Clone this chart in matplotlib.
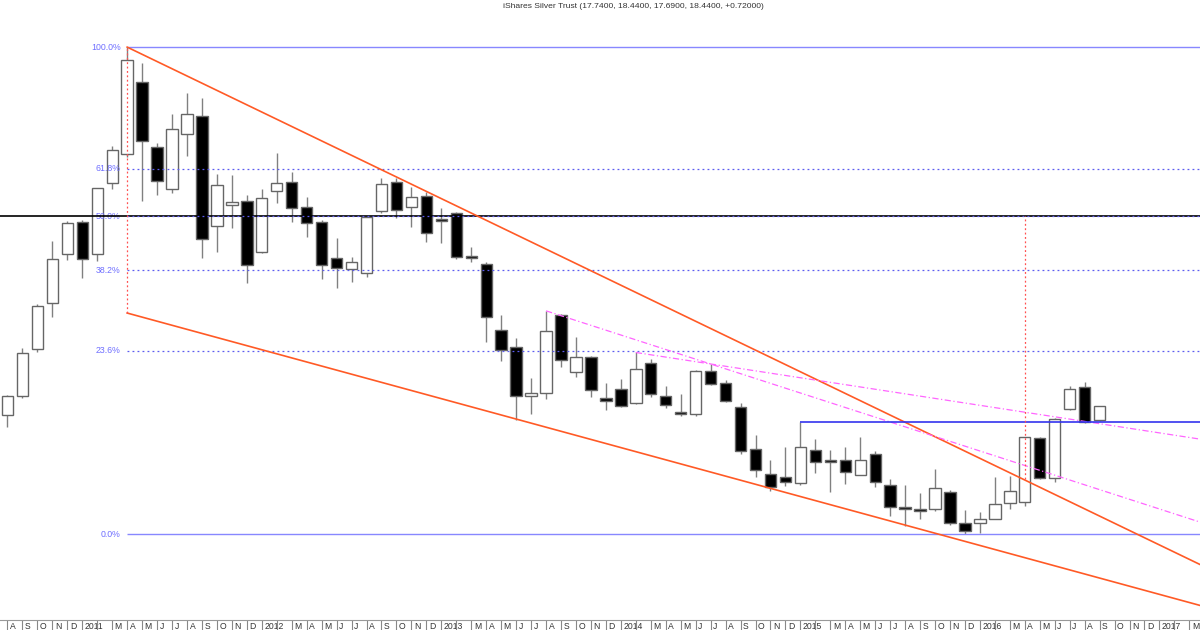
import numpy as np
import matplotlib.pyplot as plt
from matplotlib.transforms import ScaledTranslation

plt.rcParams['font.family'] = ['Liberation Sans', 'DejaVu Sans']

# monthly candles, Aug 2010 .. Sep 2016 (log price axis)
opens = [17.97, 18.93, 21.46, 24.27, 27.71, 30.18, 27.69, 33.57, 36.27, 43.98,
         36.93, 33.01, 38.24, 40.20, 29.90, 31.62, 31.99, 27.88, 32.86, 33.61,
         31.42, 30.23, 27.39, 26.62, 26.35, 31.14, 33.66, 31.42, 32.39, 30.45,
         30.92, 27.59, 26.98, 22.59, 21.56, 18.93, 19.05, 23.50, 20.16, 20.99,
         18.83, 19.29, 18.58, 20.65, 18.93, 18.13, 18.01, 20.25, 19.62, 18.38,
         16.39, 15.33, 15.20, 14.96, 16.36, 15.92, 15.95, 15.32, 16.18, 14.88,
         14.02, 13.98, 13.95, 14.61, 13.45, 13.43, 13.61, 14.20, 14.22, 16.88,
         15.16, 18.25, 19.36, 17.74]
highs = [18.95, 21.52, 24.20, 28.67, 30.30, 30.40, 33.10, 37.10, 48.35, 46.28,
         37.38, 40.35, 42.70, 42.13, 34.37, 34.27, 32.48, 32.98, 36.34, 34.58,
         32.28, 30.37, 28.91, 27.51, 30.70, 33.97, 33.97, 33.21, 32.74, 31.34,
         31.00, 28.26, 27.10, 23.52, 22.13, 19.84, 23.79, 23.60, 22.19, 21.05,
         19.60, 19.78, 21.27, 20.88, 19.43, 19.02, 20.28, 20.61, 19.75, 18.55,
         17.06, 15.95, 16.48, 17.65, 16.84, 16.36, 16.50, 16.95, 16.33, 15.13,
         14.90, 14.58, 15.53, 14.71, 13.92, 13.86, 15.20, 15.25, 16.95, 16.95,
         17.85, 19.43, 19.66, 18.44]
lows = [17.40, 18.83, 21.30, 23.41, 27.27, 25.96, 27.22, 32.98, 36.00, 31.96,
        32.48, 32.63, 36.07, 27.39, 27.84, 29.74, 25.61, 27.80, 31.81, 30.23,
        29.03, 25.91, 25.27, 25.72, 26.07, 30.97, 30.51, 29.82, 28.64, 28.57,
        27.32, 27.14, 21.89, 20.80, 17.73, 18.05, 18.75, 20.43, 19.89, 18.88,
        18.22, 18.36, 18.50, 18.85, 18.30, 17.92, 17.95, 19.48, 18.60, 16.21,
        15.22, 14.66, 14.85, 14.90, 15.39, 14.60, 14.92, 15.28, 14.80, 13.70,
        13.33, 13.61, 13.90, 13.37, 13.05, 13.10, 13.58, 13.98, 14.07, 15.12,
        15.02, 18.20, 17.58, 17.69]
closes = [18.91, 21.25, 24.10, 27.37, 30.15, 27.34, 33.07, 36.66, 46.70, 37.56,
          33.75, 38.79, 40.35, 28.85, 33.34, 31.90, 26.90, 32.19, 33.52, 31.34,
          30.10, 26.90, 26.67, 27.10, 30.64, 33.43, 31.19, 32.33, 29.35, 30.30,
          27.51, 27.39, 23.41, 21.41, 18.93, 19.08, 22.55, 20.84, 21.02, 19.22,
          18.68, 18.41, 20.32, 19.00, 18.46, 18.05, 20.23, 19.53, 18.66, 16.31,
          15.50, 14.82, 15.02, 16.50, 15.85, 15.85, 15.43, 15.92, 15.01, 14.04,
          13.95, 13.90, 14.76, 13.43, 13.17, 13.58, 14.17, 14.65, 16.93, 15.16,
          17.81, 19.27, 17.65, 18.44]

title = "iShares Silver Trust (17.7400, 18.4400, 17.6900, 18.4400, +0.72000)"

# fibonacci retracement between the Apr 2011 high and the Dec 2015 low
fib_high = 48.35
fib_low = 13.05
fib_ratios = [1.0, 0.618, 0.5, 0.382, 0.236, 0.0]
fib_names = ['100.0%', '61.8%', '50.0%', '38.2%', '23.6%', '0.0%']
fib_start = 8

# drawn lines: (bar indexes, prices)
upper_channel = ([8, 80], [48.35, 11.96])
lower_channel = ([8, 80], [23.65, 10.74])
pink_a = ([36, 80], [23.79, 13.43])
pink_b = ([42, 80], [21.27, 16.82])
jan15_high = (53, 17.65)
red_marks = [(8, 48.35, 23.65), (68, 30.70, 15.13)]

month_initials = list('JFMAMJJASOND')
first_year, first_month = 2010, 8
n_slots = 80

o = np.array(opens)
h = np.array(highs)
l = np.array(lows)
c = np.array(closes)
x = np.arange(len(o))
up = c >= o

tick_labels = []
for k in range(n_slots):
    m = (first_month - 1 + k) % 12
    yr = first_year + (first_month - 1 + k) // 12
    if m == 0:
        tick_labels.append(str(yr))
    elif m == 1:
        tick_labels.append('')
    else:
        tick_labels.append(month_initials[m])

fig = plt.figure(figsize=(12, 6.3), dpi=100)
ax = fig.add_axes([0, 10 / 630, 1, 605 / 630])
ax.set_yscale('log')
ax.set_ylim(10.36, 52.71)
ax.set_xlim(-0.5, 79.71)

# candles
ax.vlines(x, l, h, color='#808080', lw=1, zorder=2)
ax.bar(x[up], (c - o)[up], bottom=o[up], width=0.76, color='white',
       edgecolor='#666666', lw=1, zorder=3)
ax.bar(x[~up], (o - c)[~up], bottom=c[~up], width=0.76, color='black',
       edgecolor='#666666', lw=1, zorder=3)

# 50% black line across the whole chart
fib_levels = [fib_low + r * (fib_high - fib_low) for r in fib_ratios]
ax.axhline(fib_levels[2], color='black', lw=1.2, zorder=4)

for lvl, name, r in zip(fib_levels, fib_names, fib_ratios):
    if r in (0.0, 1.0):
        ax.hlines(lvl, fib_start, 81, color='#8888ff', lw=1, zorder=5)
    else:
        ax.hlines(lvl, fib_start, 81, color='#5c5cf0', lw=0.9,
                  linestyles=(0, (1.5, 2.5)), zorder=5)
    ax.text(fib_start - 0.45, lvl, name, ha='right', va='center',
            fontsize=6.3, color='#6f6fff')

ax.plot(*upper_channel, color='#ff5a26', lw=1.2, zorder=6)
ax.plot(*lower_channel, color='#ff5a26', lw=1.2, zorder=6)
ax.plot(*pink_a, color='#ff66ff', lw=0.9, ls=(0, (5, 2, 1, 2)), zorder=6)
ax.plot(*pink_b, color='#ff66ff', lw=0.9, ls=(0, (5, 2, 1, 2)), zorder=6)
ax.hlines(jan15_high[1], jan15_high[0], 81, color='#3333ee', lw=1.2, zorder=6)
for xi, top, bot in red_marks:
    ax.vlines(xi, bot, top, color='#ff5050', lw=0.9,
              linestyles=(0, (1.5, 2)), zorder=6)

# axes styling
for side in ['top', 'left', 'right']:
    ax.spines[side].set_visible(False)
ax.spines['bottom'].set_color('#999999')
ax.tick_params(axis='y', which='both', left=False, labelleft=False)
ax.set_xticks(range(n_slots))
ax.set_xticklabels(tick_labels)
ax.tick_params(axis='x', length=7.2, width=0.8, color='#888888',
               pad=-5.8, labelsize=6.2, labelcolor='#333333')
shift = ScaledTranslation(2.5 / 100, 0, fig.dpi_scale_trans)
for lbl in ax.get_xticklabels():
    lbl.set_horizontalalignment('left')
    lbl.set_verticalalignment('top')
    lbl.set_transform(lbl.get_transform() + shift)

fig.text(633 / 1200, 1 - 7 / 630, title, ha='center', va='center',
         fontsize=6.1, color='#333333')

fig.savefig('out.png', dpi=100)
plt.close(fig)
